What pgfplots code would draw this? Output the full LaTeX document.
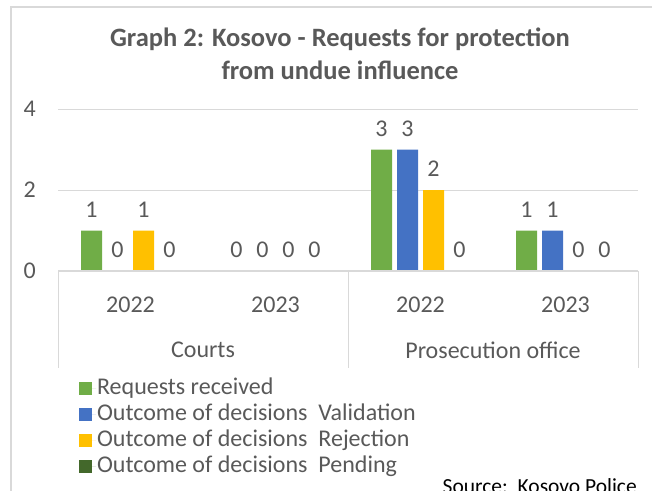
\documentclass[border=0pt]{standalone}
\usepackage{pgfplots}
\usepackage{pgfplotstable}
\pgfplotsset{compat=1.18}
\usepackage{fontspec}
\setmainfont{Carlito}
\definecolor{cgreen}{HTML}{70AD47}
\definecolor{cblue}{HTML}{4472C4}
\definecolor{cyellow}{HTML}{FFC000}
\definecolor{cdkgreen}{HTML}{43682B}
\definecolor{txtgray}{HTML}{595959}
\definecolor{linegray}{HTML}{D9D9D9}

\pgfplotstableread{
x y
0 1
1 0
2 3
3 1
}\received
\pgfplotstableread{
x y
0 0
1 0
2 3
3 1
}\validation
\pgfplotstableread{
x y
0 1
1 0
2 2
3 0
}\rejection
\pgfplotstableread{
x y
0 0
1 0
2 0
3 0
}\pending

\begin{document}
\fontsize{24bp}{29bp}\selectfont
\begin{tikzpicture}
\path[use as bounding box] (0,0) rectangle (652bp,-491bp);
\draw[linegray, line width=2bp] (11bp,-520bp) -- (11bp,-7bp) -- (680bp,-7bp);
\node[txtgray, font=\bfseries\fontsize{26.5bp}{33bp}\selectfont, align=center] at (340bp,-54bp) {Graph 2: Kosovo - Requests for protection\\from undue influence};
\begin{axis}[
  at={(58bp,-271bp)}, anchor=south west,
  scale only axis, width=580bp, height=162bp,
  ymin=0, ymax=4, xmin=-0.5, xmax=3.5,
  ytick={0,2,4}, xtick={0,1,2,3},
  xticklabels={2022,2023,2022,2023},
  /pgf/number format/assume math mode=true,
  axis lines*=left,
  y axis line style={draw=none},
  x axis line style={linegray, line width=1bp},
  major tick length=0pt,
  ymajorgrids, grid style={linegray, line width=1bp},
  tick label style={txtgray, font=\fontsize{24bp}{29bp}\selectfont},
  yticklabel style={xshift=-14bp},
  xticklabel style={yshift=-18bp},
  ybar=5bp, bar width=21bp,
  nodes near coords,
  every node near coord/.append style={txtgray, font=\fontsize{24bp}{29bp}\selectfont, yshift=5bp},
  legend style={at={(0.036,-0.645)}, anchor=north west, draw=none, fill=none, inner sep=0pt,
    text=txtgray, font=\fontsize{24bp}{29bp}\selectfont, row sep=0pt,
    nodes={inner sep=1bp, text height=18bp, text depth=6bp}},
  legend cell align=left,
  legend image code/.code={\fill[#1] (0bp,-6.5bp) rectangle (13bp,6.5bp); \path (0bp,0bp) -- (17bp,0bp);},
]
\addplot[fill=cgreen, draw=none] table[x=x,y=y]{\received};
\addplot[fill=cblue, draw=none] table[x=x,y=y]{\validation};
\addplot[fill=cyellow, draw=none] table[x=x,y=y]{\rejection};
\addplot[fill=cdkgreen, draw=none] table[x=x,y=y]{\pending};
\legend{Requests received, Outcome of decisions\ \ Validation, Outcome of decisions\ \ Rejection, Outcome of decisions\ \ Pending}
\end{axis}
\draw[linegray, line width=1.5bp] (58bp,-271bp) -- (638bp,-271bp);
\draw[linegray, line width=1bp] (58bp,-271bp) -- (58bp,-368bp);
\draw[linegray, line width=1bp] (348bp,-271bp) -- (348bp,-368bp);
\draw[linegray, line width=1bp] (638bp,-271bp) -- (638bp,-368bp);
\node[txtgray] at (203bp,-350bp) {Courts};
\node[txtgray] at (493bp,-350bp) {Prosecution office};
\node[black, anchor=base east, inner sep=0pt, font=\fontsize{21.5bp}{26bp}\selectfont] at (637bp,-493bp) {Source:\ \ Kosovo Police};
\end{tikzpicture}
\end{document}
